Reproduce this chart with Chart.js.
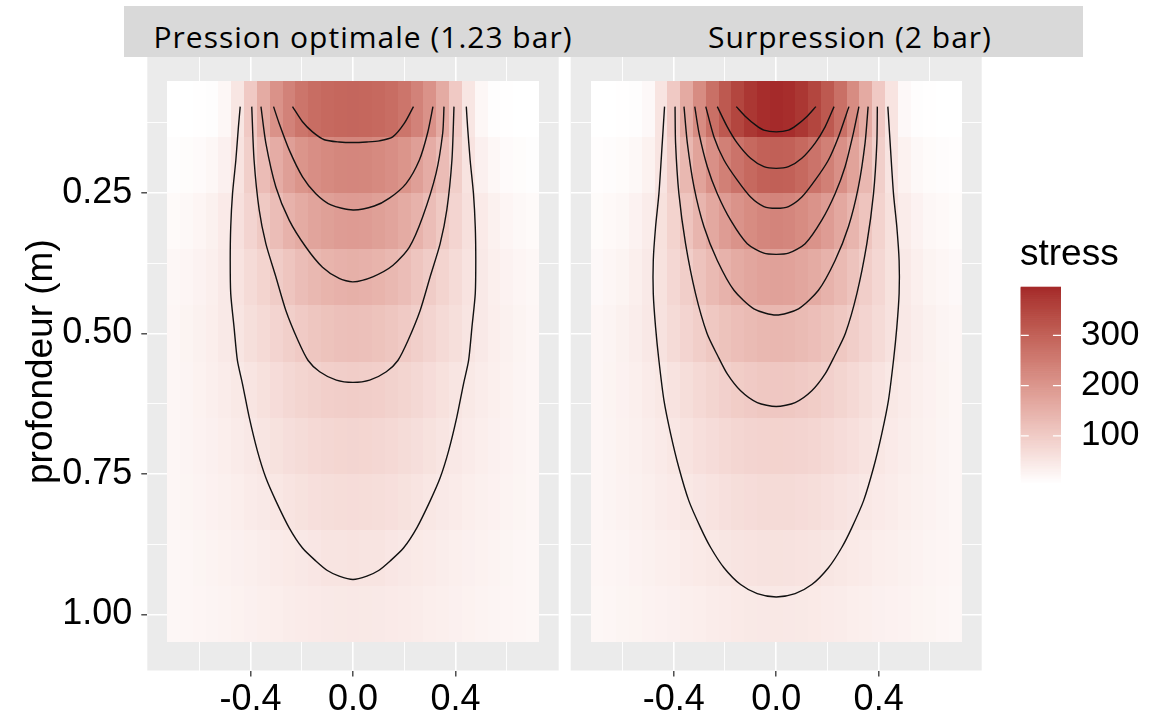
<!DOCTYPE html>
<html>
<head>
<meta charset="utf-8">
<script src="https://cdn.jsdelivr.net/npm/chart.js@4.4.1/dist/chart.umd.min.js"></script>
<style>
  body { margin: 0; background: #fff; }
  #wrap { position: relative; width: 1171px; height: 721px; overflow: hidden; }
  canvas { position: absolute; }
  #strip { position: absolute; left: 124px; top: 6px; width: 959px; height: 51px; background: #d9d9d9; }
  .strip-txt { position: absolute; top: 15.7px; font: 30px/30px "Open Sans", sans-serif; letter-spacing: 1px; color: #000; white-space: nowrap; transform: translateX(-50%); }
  #legTitle { position: absolute; left: 1020px; top: 234px; font: 37px/37px "Liberation Sans", Arial, sans-serif; color: #000; }
</style>
</head>
<body>
<div id="wrap">
  <canvas id="p1" width="562" height="721" style="left:0;top:0"></canvas>
  <canvas id="p2" width="438" height="721" style="left:562px;top:0"></canvas>
  <canvas id="leg" width="171" height="280" style="left:1000px;top:230px"></canvas>
  <div id="strip">
    <span class="strip-txt" style="left:239px">Pression optimale (1.23 bar)</span>
    <span class="strip-txt" style="left:726px">Surpression (2 bar)</span>
  </div>
  <div id="legTitle">stress</div>
</div>
<script>
// tile centres (m)
const xCentres = [-0.7, -0.65, -0.6, -0.55, -0.5, -0.45, -0.4, -0.35, -0.3, -0.25, -0.2, -0.15, -0.1, -0.05, 0,
                  0.05, 0.1, 0.15, 0.2, 0.25, 0.3, 0.35, 0.4, 0.45, 0.5, 0.55, 0.6, 0.65, 0.7];
const depthCentres = [0.1, 0.2, 0.3, 0.4, 0.5, 0.6, 0.7, 0.8, 0.9, 1.0];

// axis breaks and labels
const xBreaks = [-0.6, -0.4, -0.2, 0, 0.2, 0.4, 0.6];
const xMajor = [-0.4, 0, 0.4];
const xTickLabels = ['-0.4', '0.0', '0.4'];
const yBreaks = [0.125, 0.25, 0.375, 0.5, 0.625, 0.75, 0.875, 1.0];
const yMajor = [0.25, 0.5, 0.75, 1.0];
const yTickLabels = ['0.25', '0.50', '0.75', '1.00'];
const legendBreaks = [100, 200, 300];

// stress per row (depth 0.1 .. 1.0), columns x = -0.7 .. 0.7
const stressOptimale = [
  [6, 6, 7, 10, 20, 52, 105, 162, 210, 240, 266, 280, 288, 292, 293, 292, 288, 280, 266, 240, 210, 162, 105, 52, 20, 10, 7, 6, 6],
  [10, 12, 15, 21, 33, 58, 95, 130, 160, 185, 205, 217, 226, 231, 232, 231, 226, 217, 205, 185, 160, 130, 95, 58, 33, 21, 15, 12, 10],
  [16, 19, 24, 32, 44, 63, 85, 106, 128, 149, 163, 175, 184, 190, 192, 190, 184, 175, 163, 149, 128, 106, 85, 63, 44, 32, 24, 19, 16],
  [20, 24, 29, 36, 46, 58, 72, 86, 100, 114, 128, 138, 146, 151, 153, 151, 146, 138, 128, 114, 100, 86, 72, 58, 46, 36, 29, 24, 20],
  [23, 27, 32, 38, 46, 54, 65, 75, 85, 95, 104, 112, 118, 122, 124, 122, 118, 112, 104, 95, 85, 75, 65, 54, 46, 38, 32, 27, 23],
  [23, 26, 30, 35, 41, 47, 54, 62, 70, 77, 84, 89, 94, 97, 98, 97, 94, 89, 84, 77, 70, 62, 54, 47, 41, 35, 30, 26, 23],
  [23, 26, 29, 33, 38, 43, 48, 54, 60, 66, 71, 76, 80, 82, 83, 82, 80, 76, 71, 66, 60, 54, 48, 43, 38, 33, 29, 26, 23],
  [22, 25, 28, 31, 34, 38, 42, 46, 50, 55, 60, 64, 67, 69, 70, 69, 67, 64, 60, 55, 50, 46, 42, 38, 34, 31, 28, 25, 22],
  [21, 23, 25, 28, 30, 33, 36, 39, 42, 45, 48, 51, 55, 56, 57, 56, 55, 51, 48, 45, 42, 39, 36, 33, 30, 28, 25, 23, 21],
  [20, 22, 24, 26, 28, 30, 33, 35, 37, 40, 42, 44, 46, 47, 48, 47, 46, 44, 42, 40, 37, 35, 33, 30, 28, 26, 24, 22, 20]
];
const stressSurpression = [
  [6, 6, 7, 10, 18, 55, 105, 165, 222, 275, 318, 352, 378, 392, 397, 392, 378, 352, 318, 275, 222, 165, 105, 55, 18, 10, 7, 6, 6],
  [9, 11, 14, 19, 30, 55, 95, 138, 178, 213, 245, 268, 288, 302, 305, 302, 288, 268, 245, 213, 178, 138, 95, 55, 30, 19, 14, 11, 9],
  [14, 17, 21, 29, 41, 62, 88, 115, 143, 168, 190, 208, 222, 232, 236, 232, 222, 208, 190, 168, 143, 115, 88, 62, 41, 29, 21, 17, 14],
  [18, 22, 27, 35, 46, 60, 79, 97, 117, 134, 149, 162, 172, 179, 181, 179, 172, 162, 149, 134, 117, 97, 79, 60, 46, 35, 27, 22, 18],
  [22, 26, 32, 39, 48, 59, 72, 85, 97, 108, 118, 126, 133, 138, 140, 138, 133, 126, 118, 108, 97, 85, 72, 59, 48, 39, 32, 26, 22],
  [23, 27, 31, 36, 42, 49, 58, 67, 76, 84, 92, 99, 104, 108, 109, 108, 104, 99, 92, 84, 76, 67, 58, 49, 42, 36, 31, 27, 23],
  [23, 26, 30, 34, 39, 44, 50, 57, 64, 70, 76, 81, 85, 87, 88, 87, 85, 81, 76, 70, 64, 57, 50, 44, 39, 34, 30, 26, 23],
  [23, 26, 29, 32, 36, 40, 44, 49, 53, 58, 63, 67, 70, 72, 73, 72, 70, 67, 63, 58, 53, 49, 44, 40, 36, 32, 29, 26, 23],
  [22, 24, 26, 29, 32, 35, 38, 42, 45, 49, 52, 55, 57, 59, 60, 59, 57, 55, 52, 49, 45, 42, 38, 35, 32, 29, 26, 24, 22],
  [21, 23, 25, 27, 29, 31, 33, 36, 38, 41, 43, 45, 47, 48, 49, 48, 47, 45, 43, 41, 38, 36, 33, 31, 29, 27, 25, 23, 21]
];

// contour lines [x, depth], levels 50 .. 350
const optimale50 = [[-0.440,0.096],[-0.447,0.132],[-0.457,0.191],[-0.470,0.251],[-0.477,0.310],[-0.479,0.370],[-0.477,0.429],[-0.464,0.489],[-0.451,0.548],[-0.431,0.590],[-0.405,0.649],[-0.373,0.709],[-0.340,0.757],[-0.301,0.798],[-0.249,0.846],[-0.197,0.882],[-0.145,0.905],[-0.100,0.922],[-0.054,0.932],[0,0.938],[0.054,0.932],[0.100,0.922],[0.145,0.905],[0.197,0.882],[0.249,0.846],[0.301,0.798],[0.340,0.757],[0.373,0.709],[0.405,0.649],[0.431,0.590],[0.451,0.548],[0.464,0.489],[0.477,0.429],[0.479,0.370],[0.477,0.310],[0.470,0.251],[0.457,0.191],[0.447,0.132],[0.442,0.096]];
const optimale100 = [[-0.395,0.096],[-0.386,0.191],[-0.366,0.280],[-0.340,0.340],[-0.301,0.399],[-0.262,0.459],[-0.215,0.512],[-0.175,0.548],[-0.130,0.568],[-0.065,0.583],[0,0.587],[0.065,0.583],[0.130,0.568],[0.175,0.548],[0.215,0.512],[0.262,0.459],[0.301,0.399],[0.340,0.340],[0.366,0.280],[0.386,0.191],[0.394,0.096]];
const optimale150 = [[-0.359,0.096],[-0.340,0.161],[-0.301,0.239],[-0.249,0.298],[-0.184,0.346],[-0.119,0.382],[-0.054,0.402],[0,0.408],[0.077,0.399],[0.155,0.379],[0.220,0.346],[0.272,0.292],[0.324,0.215],[0.350,0.143],[0.355,0.096]];
const optimale200 = [[-0.310,0.096],[-0.288,0.126],[-0.249,0.173],[-0.197,0.221],[-0.145,0.251],[-0.086,0.271],[0,0.280],[0.083,0.273],[0.142,0.259],[0.207,0.233],[0.259,0.191],[0.291,0.143],[0.312,0.096]];
const optimale250 = [[-0.236,0.096],[-0.197,0.123],[-0.158,0.141],[-0.112,0.155],[-0.054,0.159],[0,0.160],[0.054,0.159],[0.103,0.157],[0.155,0.150],[0.200,0.126],[0.236,0.096]];

const surpression50 = [[-0.436,0.096],[-0.445,0.161],[-0.458,0.251],[-0.471,0.310],[-0.480,0.370],[-0.480,0.429],[-0.471,0.489],[-0.458,0.548],[-0.438,0.620],[-0.412,0.679],[-0.380,0.739],[-0.341,0.798],[-0.295,0.846],[-0.256,0.881],[-0.204,0.917],[-0.139,0.947],[-0.074,0.963],[0,0.969],[0.074,0.963],[0.139,0.947],[0.204,0.917],[0.256,0.881],[0.295,0.846],[0.341,0.798],[0.380,0.739],[0.412,0.679],[0.438,0.620],[0.458,0.548],[0.471,0.489],[0.480,0.429],[0.480,0.370],[0.471,0.310],[0.458,0.251],[0.445,0.161],[0.436,0.096]];
const surpression100 = [[-0.395,0.096],[-0.393,0.161],[-0.380,0.251],[-0.354,0.340],[-0.315,0.429],[-0.270,0.500],[-0.228,0.540],[-0.191,0.572],[-0.139,0.602],[-0.074,0.623],[0,0.630],[0.074,0.623],[0.139,0.602],[0.191,0.572],[0.228,0.540],[0.270,0.500],[0.315,0.429],[0.354,0.340],[0.380,0.251],[0.393,0.161],[0.395,0.096]];
const surpression150 = [[-0.360,0.096],[-0.347,0.161],[-0.321,0.239],[-0.282,0.310],[-0.230,0.370],[-0.165,0.423],[-0.087,0.456],[0,0.467],[0.087,0.456],[0.165,0.423],[0.230,0.370],[0.282,0.310],[0.321,0.239],[0.347,0.161],[0.359,0.096]];
const surpression200 = [[-0.318,0.096],[-0.301,0.144],[-0.269,0.203],[-0.230,0.251],[-0.178,0.298],[-0.113,0.340],[-0.048,0.357],[0,0.359],[0.048,0.357],[0.113,0.340],[0.178,0.298],[0.230,0.251],[0.269,0.203],[0.301,0.144],[0.323,0.096]];
const surpression250 = [[-0.275,0.096],[-0.243,0.150],[-0.204,0.191],[-0.152,0.227],[-0.100,0.257],[-0.048,0.274],[0,0.277],[0.048,0.274],[0.100,0.257],[0.152,0.227],[0.204,0.191],[0.243,0.150],[0.284,0.096]];
const surpression300 = [[-0.230,0.096],[-0.191,0.132],[-0.152,0.161],[-0.100,0.188],[-0.048,0.203],[0,0.206],[0.048,0.203],[0.100,0.188],[0.152,0.161],[0.191,0.132],[0.226,0.096]];
const surpression350 = [[-0.156,0.096],[-0.119,0.114],[-0.080,0.129],[-0.048,0.138],[0,0.141],[0.048,0.138],[0.080,0.129],[0.119,0.114],[0.155,0.096]];

const tileW = 0.05, tileH = 0.1;
const FONT = "'Liberation Sans', Arial, sans-serif";
Chart.defaults.font.family = FONT;

// fill scale: white -> brown, interpolated in CIELAB like ggplot
const allValues = stressOptimale.flat().concat(stressSurpression.flat());
const lo = Math.min(...allValues), hi = Math.max(...allValues);

function toLinear(c) { c /= 255; return c <= 0.04045 ? c / 12.92 : Math.pow((c + 0.055) / 1.055, 2.4); }
function toSrgb(c) { c = Math.max(0, Math.min(1, c)); return Math.round(255 * (c <= 0.0031308 ? 12.92 * c : 1.055 * Math.pow(c, 1 / 2.4) - 0.055)); }
function rgbToLab(rgb) {
  const [R, G, B] = rgb.map(toLinear);
  const X = (0.4124 * R + 0.3576 * G + 0.1805 * B) / 0.95047;
  const Y = 0.2126 * R + 0.7152 * G + 0.0722 * B;
  const Z = (0.0193 * R + 0.1192 * G + 0.9505 * B) / 1.08883;
  const f = t => t > 0.008856 ? Math.cbrt(t) : 7.787 * t + 16 / 116;
  const fx = f(X), fy = f(Y), fz = f(Z);
  return [116 * fy - 16, 500 * (fx - fy), 200 * (fy - fz)];
}
function labToRgb([L, a, b]) {
  const fy = (L + 16) / 116, fx = fy + a / 500, fz = fy - b / 200;
  const inv = t => t * t * t > 0.008856 ? t * t * t : (t - 16 / 116) / 7.787;
  const X = 0.95047 * inv(fx), Y = inv(fy), Z = 1.08883 * inv(fz);
  const r = 3.2406 * X - 1.5372 * Y - 0.4986 * Z;
  const g = -0.9689 * X + 1.8758 * Y + 0.0415 * Z;
  const bb = 0.0557 * X - 0.2040 * Y + 1.0570 * Z;
  return [toSrgb(r), toSrgb(g), toSrgb(bb)];
}
const labLow = rgbToLab([255, 255, 255]);
const labHigh = rgbToLab([165, 42, 42]);
function stressColour(v) {
  const t = Math.max(0, Math.min(1, (v - lo) / (hi - lo)));
  const lab = labLow.map((c, i) => c + (labHigh[i] - c) * t);
  const [r, g, b] = labToRgb(lab);
  return `rgb(${r},${g},${b})`;
}

const near = (v, list) => list.some(m => Math.abs(m - v) < 1e-9);

const panelBg = {
  id: 'panelBg',
  beforeDraw(chart) {
    const { ctx, chartArea: a } = chart;
    ctx.save();
    ctx.fillStyle = '#ebebeb';
    ctx.fillRect(a.left, a.top, a.right - a.left, a.bottom - a.top);
    ctx.restore();
  }
};

function tiles(grid) {
  return {
    id: 'tiles',
    beforeDatasetsDraw(chart) {
      const { ctx, scales: { x, y } } = chart;
      ctx.save();
      depthCentres.forEach((d, i) => {
        const yTop = Math.round(y.getPixelForValue(d - tileH / 2));
        const yBot = Math.round(y.getPixelForValue(d + tileH / 2));
        xCentres.forEach((xc, j) => {
          const xl = Math.round(x.getPixelForValue(xc - tileW / 2));
          const xr = Math.round(x.getPixelForValue(xc + tileW / 2));
          ctx.fillStyle = stressColour(grid[i][j]);
          ctx.fillRect(xl, yTop, xr - xl, yBot - yTop);
        });
      });
      ctx.restore();
    }
  };
}

function makePanel(id, grid, lines, first) {
  const datasets = lines.map(pts => ({
    data: pts.map(p => ({ x: p[0], y: p[1] })),
    showLine: true,
    borderColor: '#111',
    borderWidth: 1.4,
    pointRadius: 0,
    tension: 0.25
  }));
  return new Chart(document.getElementById(id), {
    type: 'scatter',
    data: { datasets },
    options: {
      responsive: false,
      animation: false,
      events: [],
      layout: { padding: first ? { left: 0, right: 3.3, top: 52.7, bottom: 0 } : { left: 8.7, right: 18.3, top: 52.7, bottom: 0 } },
      plugins: { legend: { display: false }, tooltip: { enabled: false } },
      scales: {
        x: {
          type: 'linear', min: -0.8025, max: 0.8025,
          afterBuildTicks: s => { s.ticks = xBreaks.map(v => ({ value: v })); },
          afterFit: s => { s.height = 50.5; },
          ticks: {
            autoSkip: false, maxRotation: 0, padding: 1.5,
            font: { size: 36 }, color: '#000',
            callback: v => near(v, xMajor) ? xTickLabels[xMajor.findIndex(m => Math.abs(m - v) < 1e-9)] : ''
          },
          grid: {
            color: '#fff',
            lineWidth: c => near(c.tick.value, xMajor) ? 1.6 : 0.9,
            tickColor: c => near(c.tick.value, xMajor) ? '#333' : 'rgba(0,0,0,0)',
            tickLength: 6, tickWidth: 1.3
          },
          border: { display: false }
        },
        y: {
          type: 'linear', min: 0, max: 1.1, reverse: true,
          afterBuildTicks: s => { s.ticks = yBreaks.map(v => ({ value: v })); },
          afterFit: s => { s.width = first ? 147.3 : 0; },
          ticks: {
            display: first, autoSkip: false, padding: 9,
            font: { size: 36 }, color: '#000',
            callback: v => near(v, yMajor) ? yTickLabels[yMajor.findIndex(m => Math.abs(m - v) < 1e-9)] : ''
          },
          grid: {
            color: '#fff',
            lineWidth: c => near(c.tick.value, yMajor) ? 1.6 : 0.9,
            tickColor: c => near(c.tick.value, yMajor) ? '#333' : 'rgba(0,0,0,0)',
            drawTicks: first, tickLength: 6, tickWidth: 1.3
          },
          border: { display: false },
          title: {
            display: first, text: 'profondeur (m)', color: '#000',
            font: { size: 37 }, padding: { top: 20, bottom: 0 }
          }
        }
      }
    },
    plugins: [panelBg, tiles(grid)]
  });
}

makePanel('p1', stressOptimale, [optimale50, optimale100, optimale150, optimale200, optimale250], true);
makePanel('p2', stressSurpression, [surpression50, surpression100, surpression150, surpression200, surpression250, surpression300, surpression350], false);

// colour bar legend
const colourBar = {
  id: 'colourBar',
  beforeDatasetsDraw(chart) {
    const { ctx, chartArea: a, scales: { y } } = chart;
    const nbin = 300;
    ctx.save();
    for (let i = 0; i < nbin; i++) {
      const v0 = lo + (hi - lo) * i / nbin, v1 = lo + (hi - lo) * (i + 1) / nbin;
      const p0 = y.getPixelForValue(v0), p1 = y.getPixelForValue(v1);
      ctx.fillStyle = stressColour((v0 + v1) / 2);
      ctx.fillRect(a.left, p1, a.right - a.left, p0 - p1 + 0.7);
    }
    const w = (a.right - a.left) / 5;
    ctx.strokeStyle = '#fff';
    ctx.lineWidth = 1.3;
    legendBreaks.forEach(v => {
      const p = y.getPixelForValue(v);
      ctx.beginPath();
      ctx.moveTo(a.left, p); ctx.lineTo(a.left + w, p);
      ctx.moveTo(a.right - w, p); ctx.lineTo(a.right, p);
      ctx.stroke();
    });
    ctx.restore();
  }
};

new Chart(document.getElementById('leg'), {
  type: 'scatter',
  data: { datasets: [] },
  options: {
    responsive: false,
    animation: false,
    events: [],
    layout: { padding: { left: 20.7, top: 56.7, bottom: 27, right: 0 } },
    plugins: { legend: { display: false }, tooltip: { enabled: false } },
    scales: {
      x: { display: false, min: 0, max: 1 },
      y: {
        position: 'right', min: lo, max: hi,
        afterBuildTicks: s => { s.ticks = legendBreaks.map(v => ({ value: v })); },
        afterFit: s => { s.width = 110; s.paddingTop = 0; s.paddingBottom = 0; },
        ticks: { font: { size: 35 }, color: '#000', padding: 20, callback: v => String(v) },
        grid: { display: false, drawTicks: false },
        border: { display: false }
      }
    }
  },
  plugins: [colourBar]
});
</script>
</body>
</html>
